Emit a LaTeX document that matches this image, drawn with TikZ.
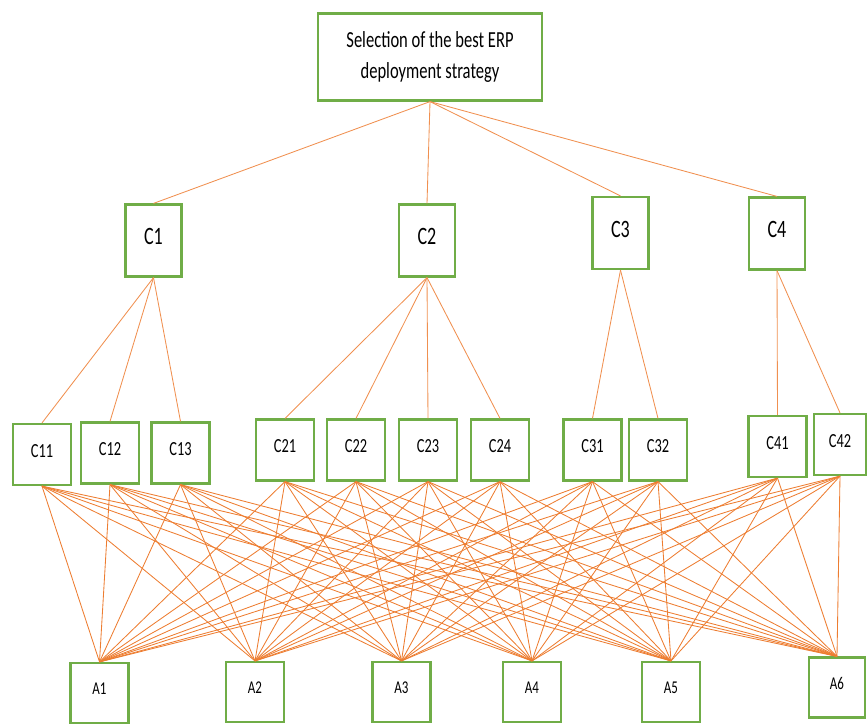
\documentclass[tikz,border=0pt]{standalone}
\usepackage{fontspec}
\setmainfont[FakeStretch=0.72]{Carlito}
\definecolor{boxgreen}{RGB}{112,173,71}
\definecolor{linkorange}{RGB}{237,125,49}

\begin{document}
\begin{tikzpicture}[x=1pt,y=-1pt,
  box/.style={draw=boxgreen, line width=2.2pt, fill=white, inner sep=0pt,
    minimum width=58pt, minimum height=61pt, text depth=8pt},
  crit/.style={box, minimum width=56pt, minimum height=72pt, font=\fontsize{25}{28}\selectfont},
  sub/.style={box, font=\fontsize{20}{24}\selectfont},
  alt/.style={box, minimum height=60pt, font=\fontsize{18}{22}\selectfont},
  link/.style={draw=linkorange, line width=0.85pt}]
\useasboundingbox (0,0) rectangle (867,724);

% goal
\node[draw=boxgreen, line width=2.2pt, minimum width=224pt, minimum height=87pt,
  align=center, font=\fontsize{23}{31}\selectfont] (goal) at (430,57)
  {Selection of the best ERP\\deployment strategy};

% criteria
\node[crit] (c1) at (153.5,240.5) {C1};
\node[crit] (c2) at (427,240.5) {C2};
\node[crit] (c3) at (620.5,233) {C3};
\node[crit] (c4) at (777,233.5) {C4};

% sub-criteria
\node[sub] (c11) at (42,454.5) {C11};
\node[sub] (c12) at (110,453) {C12};
\node[sub] (c13) at (180.5,453) {C13};
\node[sub] (c21) at (285,450) {C21};
\node[sub] (c22) at (356,450) {C22};
\node[sub] (c23) at (428,450) {C23};
\node[sub] (c24) at (500,450) {C24};
\node[sub] (c31) at (592.5,450) {C31};
\node[sub] (c32) at (658,450) {C32};
\node[sub] (c41) at (777.5,446.5) {C41};
\node[sub, minimum width=52pt] (c42) at (840,444.5) {C42};

% alternatives
\node[alt] (a1) at (99.5,693) {A1};
\node[alt] (a2) at (255,692) {A2};
\node[alt] (a3) at (401.5,692) {A3};
\node[alt] (a4) at (532,692) {A4};
\node[alt] (a5) at (671,692) {A5};
\node[alt, minimum width=56pt] (a6) at (837,687.5) {A6};

% links
\foreach \c in {c1,c2,c3,c4}
  \draw[link, draw=linkorange!85] (goal.south) -- (\c.north);
\foreach \c/\s in {c1/c11,c1/c12,c1/c13,c2/c21,c2/c22,c2/c23,c2/c24,c3/c31,c3/c32,c4/c41,c4/c42}
  \draw[link, draw=linkorange!85] (\c.south) -- (\s.north);
\foreach \s in {c11,c12,c13,c21,c22,c23,c24,c31,c32,c41,c42}
  \foreach \a in {a1,a2,a3,a4,a5,a6}
    \draw[link] (\s.south) -- (\a.north);
\end{tikzpicture}
\end{document}
